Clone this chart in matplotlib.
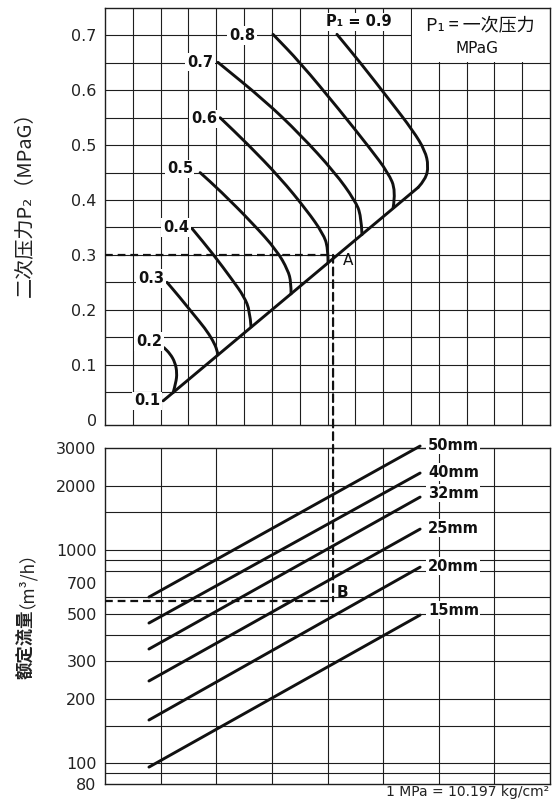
import matplotlib
matplotlib.use("Agg")
import matplotlib.pyplot as plt
from matplotlib.patches import Rectangle, ConnectionPatch, PathPatch
from matplotlib.path import Path
from matplotlib.ticker import NullLocator

plt.rcParams['font.family'] = ['DejaVu Sans', 'Noto Sans CJK SC']

# ---- upper chart: P2 vs. flow, one curve per primary pressure P1 ----
diag_x = [2.09, 11.26]
diag_y = [0.034, 0.423]

c02_x = [2.12, 2.34, 2.52, 2.59, 2.55, 2.45]
c02_y = [0.131, 0.120, 0.104, 0.085, 0.067, 0.049]
c03_x = [2.23, 2.70, 3.16, 3.60, 3.88, 4.03, 4.06]
c03_y = [0.250, 0.222, 0.193, 0.166, 0.144, 0.127, 0.118]
c04_x = [3.13, 3.88, 4.60, 5.00, 5.21, 5.25]
c04_y = [0.348, 0.302, 0.253, 0.224, 0.198, 0.169]
c05_x = [3.42, 4.14, 5.32, 6.18, 6.58, 6.69, 6.69]
c05_y = [0.450, 0.417, 0.357, 0.308, 0.272, 0.250, 0.229]
c06_x = [4.14, 5.11, 6.29, 7.26, 7.84, 8.02, 8.02]
c06_y = [0.550, 0.503, 0.441, 0.381, 0.339, 0.313, 0.286]
c07_x = [4.06, 5.75, 7.01, 8.27, 8.99, 9.21, 9.24]
c07_y = [0.651, 0.581, 0.520, 0.450, 0.399, 0.372, 0.337]
c08_x = [6.04, 7.01, 8.45, 9.53, 10.18, 10.46, 10.36]
c08_y = [0.702, 0.651, 0.563, 0.494, 0.450, 0.417, 0.386]
c09_x = [8.34, 9.17, 10.25, 11.08, 11.51, 11.63, 11.53, 11.26]
c09_y = [0.702, 0.651, 0.581, 0.526, 0.490, 0.462, 0.438, 0.423]

p1_labels = ["0.1", "0.2", "0.3", "0.4", "0.5", "0.6", "0.7", "0.8", "P₁ = 0.9"]
# label anchors (layout only)
p1_label_x = [1.98, 2.05, 2.12, 3.02, 3.16, 4.03, 3.88, 5.39, 9.13]
p1_label_y = [0.034, 0.142, 0.257, 0.350, 0.457, 0.548, 0.651, 0.700, 0.725]

p2_ticks = [0, 0.1, 0.2, 0.3, 0.4, 0.5, 0.6, 0.7]
p2_tick_labels = ["0", "0.1", "0.2", "0.3", "0.4", "0.5", "0.6", "0.7"]
p2_grid = [0.05, 0.1, 0.15, 0.2, 0.25, 0.3, 0.35, 0.4, 0.45, 0.5, 0.55, 0.6, 0.65, 0.7]

# ---- lower chart: rated flow per nominal size ----
sizes = ["50mm", "40mm", "32mm", "25mm", "20mm", "15mm"]
flow_x = [1.58, 11.33]
flow_start = [601, 454, 343, 243, 159.5, 96]
flow_end = [3064, 2290, 1767, 1251, 830, 495]
size_label_y = [3096, 2314, 1846, 1265, 840, 522]

flow_ticks = [80, 100, 200, 300, 500, 700, 1000, 2000, 3000]
flow_grid = [90, 100, 150, 200, 300, 400, 500, 600, 800, 900, 1000, 1500, 2000]

# example reading: P2 = 0.3 -> point A -> point B
a_x = 8.2
a_p2 = 0.3
b_flow = 575

INK = '#111111'
GRID = '#1e1e1e'


def smooth_path(xs, ys):
    # quadratic segments through the midpoints, read points act as controls
    pts = list(zip(xs, ys))
    verts = [pts[0]]
    codes = [Path.MOVETO]
    if len(pts) > 2:
        mid = ((pts[0][0] + pts[1][0]) / 2, (pts[0][1] + pts[1][1]) / 2)
        verts.append(mid)
        codes.append(Path.LINETO)
        for i in range(1, len(pts) - 1):
            nxt = ((pts[i][0] + pts[i + 1][0]) / 2, (pts[i][1] + pts[i + 1][1]) / 2)
            if i == len(pts) - 2:
                nxt = pts[i + 1]
            verts += [pts[i], nxt]
            codes += [Path.CURVE3, Path.CURVE3]
    else:
        verts.append(pts[1])
        codes.append(Path.LINETO)
    return Path(verts, codes)


fig = plt.figure(figsize=(5.52, 8), dpi=100)
ax = fig.add_axes([105 / 552, 375 / 800, 445 / 552, 417 / 800])
axb = fig.add_axes([105 / 552, 16 / 800, 445 / 552, 336 / 800])

# upper grid
ax.set_xlim(0, 16)
ax.set_ylim(-0.01, 0.75)
for gx in range(1, 16):
    ax.axvline(gx, color=GRID, lw=0.8, zorder=1)
for gy in p2_grid:
    ax.axhline(gy, color=GRID, lw=0.8, zorder=1)
ax.set_xticks([])
ax.set_yticks(p2_ticks)
ax.set_yticklabels(p2_tick_labels)
ax.tick_params(axis='y', length=0, pad=6, labelsize=11.5, labelcolor='#222222')
for s in ax.spines.values():
    s.set_linewidth(1.0)
    s.set_color(GRID)

# white panel behind the legend note
ax.add_patch(Rectangle((11.04, 0.652), 4.96, 0.098, facecolor='white',
                       edgecolor='none', zorder=2))
ax.text(13.5, 0.718, "P₁ = 一次压力", ha='center', va='center', fontsize=13,
        family=['Noto Sans CJK SC', 'DejaVu Sans'], color=INK, zorder=3)
ax.text(13.38, 0.677, "MPaG", ha='center', va='center', fontsize=11, color=INK, zorder=3)

curves_x = [c02_x, c03_x, c04_x, c05_x, c06_x, c07_x, c08_x, c09_x]
curves_y = [c02_y, c03_y, c04_y, c05_y, c06_y, c07_y, c08_y, c09_y]
ax.plot(diag_x, diag_y, color=INK, lw=2.1, solid_capstyle='round', zorder=4)
for cx, cy in zip(curves_x, curves_y):
    ax.add_patch(PathPatch(smooth_path(cx, cy), facecolor='none', edgecolor=INK,
                           lw=2.1, capstyle='round', joinstyle='round', zorder=4))

for lab, lx, ly in zip(p1_labels, p1_label_x, p1_label_y):
    ha = 'center' if lab.startswith('P') else 'right'
    ax.text(lx, ly, lab, ha=ha, va='center', fontsize=10.5, fontweight='bold',
            color=INK, zorder=5,
            bbox=dict(facecolor='white', edgecolor='none', pad=1.2))

dash = (0, (3.5, 2.2))
ax.plot([0, a_x], [a_p2, a_p2], color=INK, lw=1.6, ls=dash, zorder=4)
ax.text(8.74, 0.289, "A", ha='center', va='center', fontsize=11, color=INK, zorder=5)

# lower grid
axb.set_yscale('log')
axb.set_xlim(0, 16)
axb.set_ylim(80, 3000)
for gx in range(2, 16, 2):
    axb.axvline(gx, color=GRID, lw=0.8, zorder=1)
for gy in flow_grid:
    axb.axhline(gy, color=GRID, lw=0.8, zorder=1)
axb.set_xticks([])
axb.set_yticks(flow_ticks)
axb.set_yticklabels([str(v) for v in flow_ticks])
axb.yaxis.set_minor_locator(NullLocator())
axb.tick_params(axis='y', length=0, pad=6, labelsize=11.5, labelcolor='#222222')
for s in axb.spines.values():
    s.set_linewidth(1.0)
    s.set_color(GRID)

for name, f0, f1, ly in zip(sizes, flow_start, flow_end, size_label_y):
    axb.plot(flow_x, [f0, f1], color=INK, lw=2.1, solid_capstyle='round',
             clip_on=False, zorder=4)
    axb.text(11.61, ly, name, ha='left', va='center', fontsize=10.5,
             fontweight='bold', color=INK, zorder=5,
             bbox=dict(facecolor='white', edgecolor='none', pad=1.0))

axb.plot([0, a_x], [b_flow, b_flow], color=INK, lw=1.6, ls=dash, zorder=4)
axb.text(8.52, 628, "B", ha='center', va='center', fontsize=11,
         fontweight='bold', color=INK, zorder=5)

link = ConnectionPatch(xyA=(a_x, a_p2), coordsA=ax.transData,
                       xyB=(a_x, b_flow), coordsB=axb.transData,
                       color=INK, lw=1.6, linestyle=dash, zorder=6)
fig.add_artist(link)

# axis titles
cjk = ['Noto Sans CJK SC', 'DejaVu Sans']
fig.text(25 / 552, 1 - 199 / 800, "二次压力P₂（MPaG）", rotation=90,
         ha='center', va='center', fontsize=14.5, family=cjk, color='#222222')
fig.text(26 / 552, 1 - 644 / 800, "额定流量", rotation=90,
         ha='center', va='center', fontsize=12.5, fontweight='bold',
         family=cjk, color='#222222')
fig.text(17 / 552, 1 - 570 / 800, "（m³/h）", rotation=90,
         ha='center', va='center', fontsize=12.5, family=cjk, color='#222222')

fig.text(549 / 552, 1 / 800, "1 MPa = 10.197 kg/cm²", ha='right', va='bottom',
         fontsize=10, color='#222222')

fig.savefig("out.png", dpi=100)
